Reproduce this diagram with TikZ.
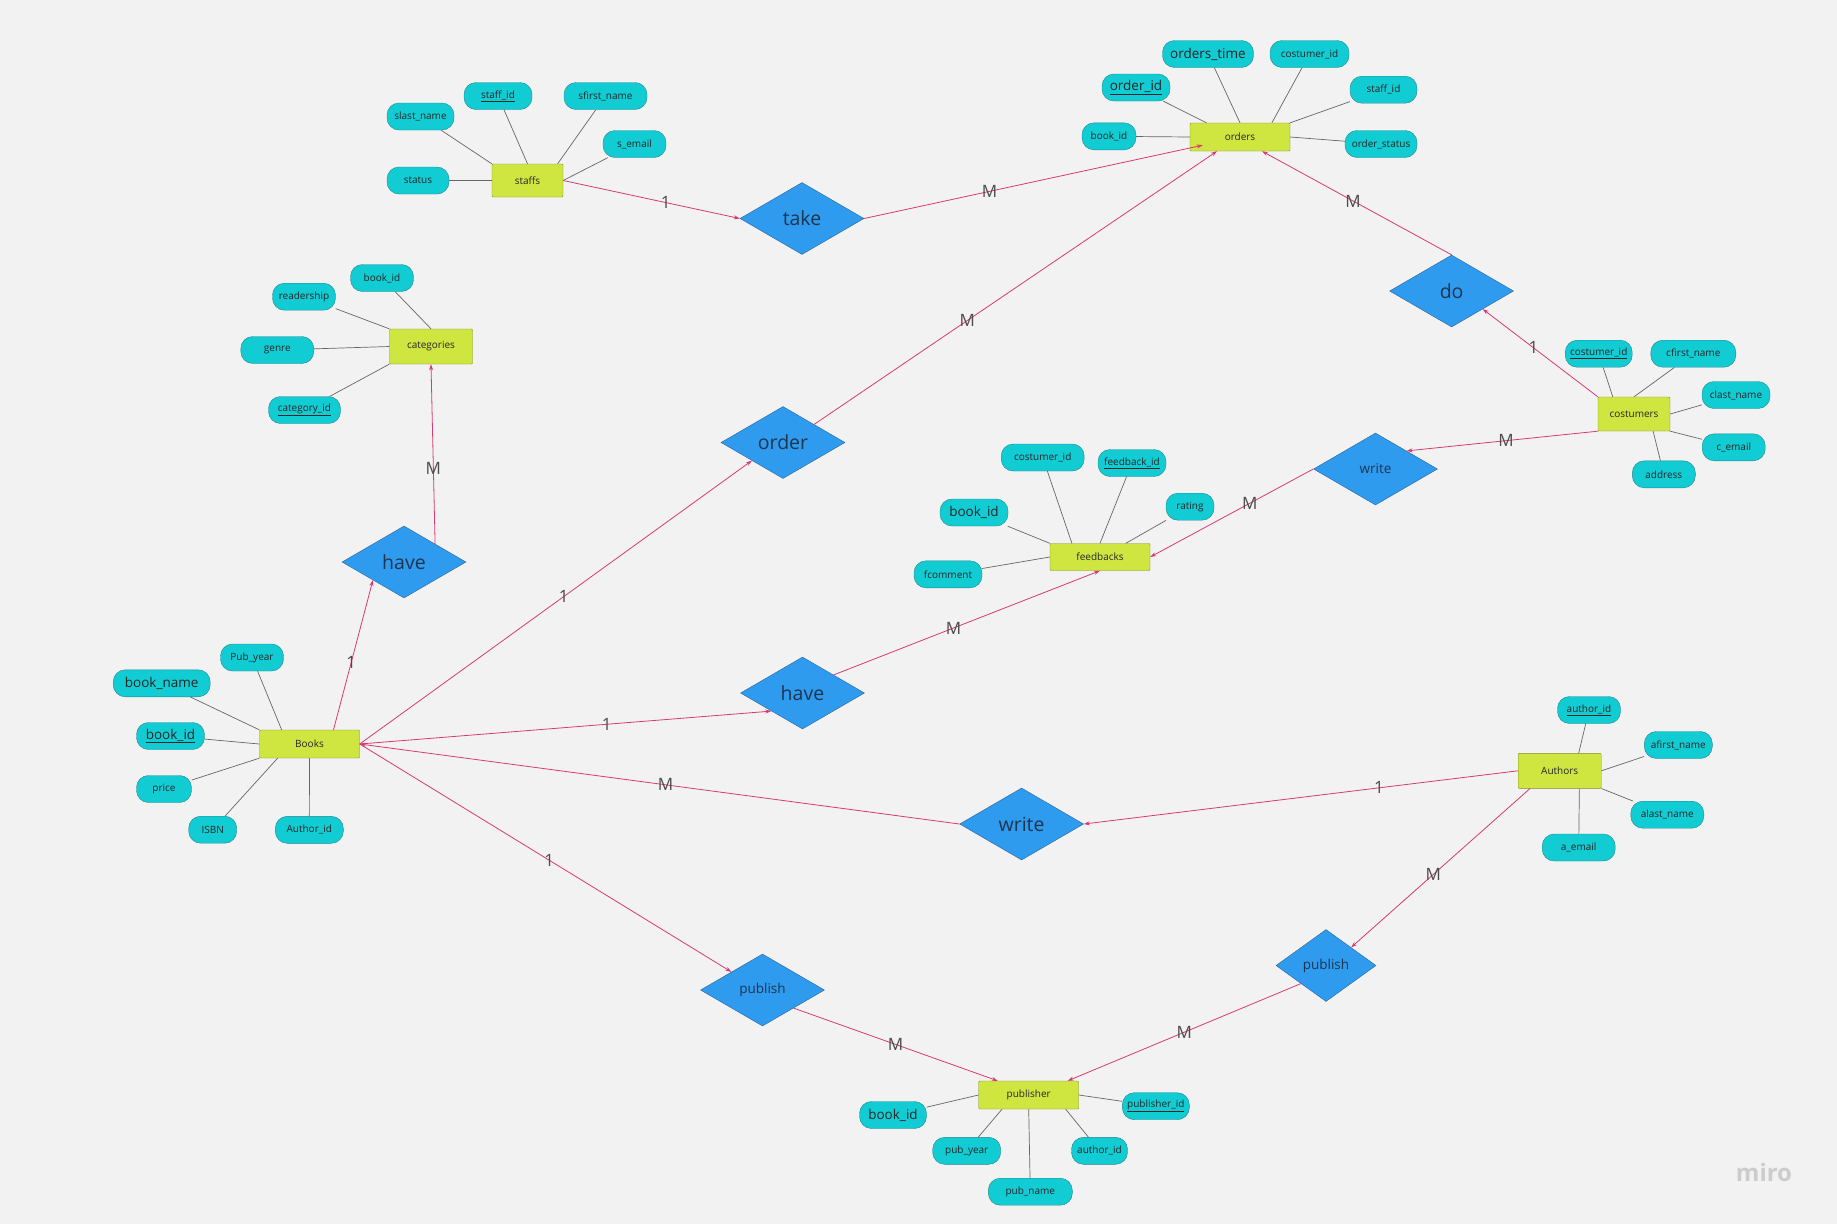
\documentclass[tikz,border=0pt]{standalone}
\usepackage{fontspec}
\setmainfont{Open Sans}
\usetikzlibrary{shapes.geometric,arrows.meta}
\definecolor{bg}{HTML}{F2F2F2}
\definecolor{attrfill}{HTML}{12CCD4}
\definecolor{attrborder}{HTML}{23868C}
\definecolor{entfill}{HTML}{CFE641}
\definecolor{entborder}{HTML}{7F8C2E}
\definecolor{relfill}{HTML}{2E9BEF}
\definecolor{relborder}{HTML}{2A6499}
\definecolor{reltext}{HTML}{1E3550}
\definecolor{linkcol}{HTML}{D63A74}
\newcommand\fsmall{\fontsize{10}{12}\selectfont}
\newcommand\fmed{\fontsize{13.5}{16}\selectfont}
\newcommand\fbig{\fontsize{19.5}{23}\selectfont}
\begin{document}
\begin{tikzpicture}[x=1pt, y=-1pt,
  attr/.style={draw=attrborder, fill=attrfill, rounded corners=12pt, minimum height=27pt, inner sep=0pt, font=\fsmall, text=black!85},
  ent/.style={draw=entborder, fill=entfill, rounded corners=1pt, inner sep=0pt, font=\fsmall, text=black!85},
  rel/.style={diamond, draw=relborder, fill=relfill, minimum width=124pt, minimum height=72pt, inner sep=0pt, font=\fbig, text=reltext},
  attrline/.style={draw=black!60, line width=0.7pt},
  link/.style={draw=linkcol, line width=0.8pt, -{Stealth[length=6pt,width=4pt]}},
  card/.style={font=\fontsize{17}{20}\selectfont, text=black!70}]
  \useasboundingbox (0,0) rectangle (1837,1224);
  \fill[bg] (0,0) rectangle (1837,1224);
  % Draw entities
  \foreach \n/\x/\y/\w/\h/\t in {staffs/527.5/180.5/71/33/staffs, orders/1240/137/100/28/orders,
      categories/431/346.5/83/35/categories, books/309.5/744/100/28/Books,
      feedbacks/1100/557/100/27/feedbacks, costumers/1634/414/72/34/costumers,
      authors/1559.7/770.8/83/35/Authors, publisher/1028.7/1095/100/28/publisher} {
    \node[ent, minimum width=\w pt, minimum height=\h pt] (\n) at (\x,\y) {\t};
  }
  % Draw attributes of staffs
  \foreach \n/\x/\y/\w/\t/\a in {slast/420.5/116.5/67/{slast\_name}/north west, sid/498/96/68/{\underline{staff\_id}}/north,
      sfirst/605.5/96/83/{sfirst\_name}/29, semail/634.5/144/63/{s\_email}/east, sstatus/418/180.5/62/{status}/west} {
    \node[attr, minimum width=\w pt] (\n) at (\x,\y) {\t};
    \draw[attrline] (\n) -- (staffs.\a);
  }
  % Draw attributes of orders
  \foreach \n/\x/\y/\w/\t/\a in {otime/1208/54/91/{\fmed orders\_time}/north, ocust/1309.5/54/79/{costumer\_id}/24,
      oid/1136/87.5/68/{\fmed\underline{order\_id}}/157, ostaff/1383.5/89.7/67/{staff\_id}/north east,
      obook/1109/136.3/54/{book\_id}/west, ostatus/1381/144/72/{order\_status}/east} {
    \node[attr, minimum width=\w pt] (\n) at (\x,\y) {\t};
    \draw[attrline] (\n) -- (orders.\a);
  }
  % Draw attributes of categories
  \foreach \n/\x/\y/\w/\t/\a in {cbook/382/278/63/{book\_id}/north, cread/304/296.7/63/{readership}/north west,
      cgenre/277.3/350/73/{genre}/west, cid/304.5/410/72/{\underline{category\_id}}/south west} {
    \node[attr, minimum width=\w pt] (\n) at (\x,\y) {\t};
    \draw[attrline] (\n) -- (categories.\a);
  }
  % Draw attributes of books
  \foreach \n/\x/\y/\w/\t/\a in {bpub/252/657.5/63/{Pub\_year}/153, bname/161.7/683.3/97/{\fmed book\_name}/north west,
      bid/170.5/736/68/{\fmed\underline{book\_id}}/west, bprice/164/789/55/{price}/south west,
      bisbn/212.7/829.7/48/{ISBN}/204, bauth/309.3/829.8/68/{Author\_id}/south} {
    \node[attr, minimum width=\w pt] (\n) at (\x,\y) {\t};
    \draw[attrline] (\n) -- (books.\a);
  }
  % Draw attributes of feedbacks
  \foreach \n/\x/\y/\w/\t/\a in {fcust/1042.7/457.5/83/{costumer\_id}/154, fid/1132/463/68/{\underline{feedback\_id}}/north,
      frate/1190/506.7/48/{rating}/28, fbook/974/512.5/68/{\fmed book\_id}/north west, fcom/948/574.3/68/{fcomment}/west} {
    \node[attr, minimum width=\w pt] (\n) at (\x,\y) {\t};
    \draw[attrline] (\n) -- (feedbacks.\a);
  }
  % Draw attributes of costumers
  \foreach \n/\x/\y/\w/\t/\a in {kid/1598.7/353.7/67/{\underline{costumer\_id}}/141, kfirst/1693.3/353.7/85/{cfirst\_name}/north,
      klast/1736/395/68/{clast\_name}/east, kemail/1733.7/447.3/63/{c\_email}/south east, kaddr/1663.8/474.3/63/{address}/318} {
    \node[attr, minimum width=\w pt] (\n) at (\x,\y) {\t};
    \draw[attrline] (\n) -- (costumers.\a);
  }
  % Draw attributes of authors
  \foreach \n/\x/\y/\w/\t/\a in {aid/1589/710/63/{\underline{author\_id}}/43, afirst/1678.3/745/68/{afirst\_name}/east,
      alast/1667.3/814.7/73/{alast\_name}/south east, aemail/1578.7/847.5/73/{a\_email}/318} {
    \node[attr, minimum width=\w pt] (\n) at (\x,\y) {\t};
    \draw[attrline] (\n) -- (authors.\a);
  }
  % Draw attributes of publisher
  \foreach \n/\x/\y/\w/\t/\a in {pbook/893/1115/67/{\fmed book\_id}/west, pyear/966.7/1150.8/68/{pub\_year}/208,
      pname/1030.3/1191.7/84/{pub\_name}/south, pauth/1099.5/1150.8/56/{author\_id}/339,
      pid/1155.8/1106.2/67/{\underline{publisher\_id}}/east} {
    \node[attr, minimum width=\w pt] (\n) at (\x,\y) {\t};
    \draw[attrline] (\n) -- (publisher.\a);
  }
  % Draw relationships
  \node[rel] (take) at (802,218.5) {take};
  \node[rel] (order) at (783,442.5) {order};
  \node[rel] (do) at (1451.6,291) {do};
  \node[rel] (havecat) at (404,562) {have};
  \node[rel, font=\fmed] (writefb) at (1375.5,469) {write};
  \node[rel] (havefb) at (802.5,693) {have};
  \node[rel] (writeb) at (1021.6,824) {write};
  \node[rel, font=\fmed] (pubb) at (762.5,990) {publish};
  \node[rel, font=\fmed, minimum width=100pt] (puba) at (1326,965.5) {publish};
  % Draw links with cardinalities
  \draw[link] (staffs.east) -- node[card, pos=0.58] {1} (take.west);
  \draw[link] (take.east) -- node[card, pos=0.37] {M} ([xshift=13pt,yshift=6pt]orders.south west);
  \draw[link] (order.north east) -- node[card, pos=0.38] {M} ([xshift=-23pt]orders.south);
  \draw[link] (do.north) -- node[card, pos=0.52] {M} ([xshift=22pt]orders.south);
  \draw[link] (costumers.north west) -- node[card, pos=0.56] {1} (do.south east);
  \draw[link] (costumers.south west) -- node[card, pos=0.48] {M} (writefb.north east);
  \draw[link] (writefb.west) -- node[card, pos=0.39] {M} (feedbacks.east);
  \draw[link] ([xshift=24pt]books.north) -- node[card, pos=0.45] {1} (havecat.south west);
  \draw[link] (havecat.north east) -- node[card, pos=0.42] {M} (categories.south);
  \draw[link] (books.east) -- node[card, pos=0.52] {1} (order.south west);
  \draw[link] (books.east) -- node[card, pos=0.6] {1} (havefb.south west);
  \draw[link] (havefb.north east) -- node[card, pos=0.45] {M} (feedbacks.south);
  \draw[link] (writeb.west) -- node[card, pos=0.49] {M} (books.east);
  \draw[link] (authors.west) -- node[card, pos=0.32] {1} (writeb.east);
  \draw[link] (books.east) -- node[card, pos=0.51] {1} (pubb.north west);
  \draw[link] (pubb.south east) -- node[card, pos=0.5] {M} ([xshift=-31pt]publisher.north);
  \draw[link] ([xshift=12pt]authors.south west) -- node[card, pos=0.54] {M} (puba.north east);
  \draw[link] (puba.south west) -- node[card, pos=0.5] {M} ([xshift=39pt]publisher.north);
  % Watermark
  \node[font=\bfseries\fontsize{24}{28}\selectfont, text=black!20] (miro) at (1764,1172) {miro};
\end{tikzpicture}
\end{document}
